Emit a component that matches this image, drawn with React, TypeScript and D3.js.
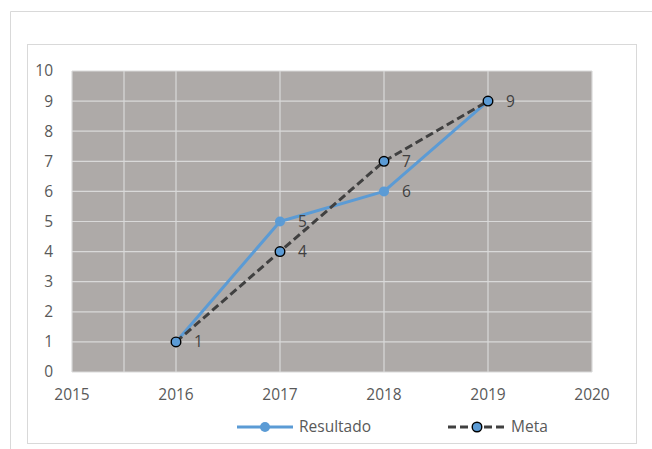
import React from "react";
import * as d3 from "d3";

const years = [2016, 2017, 2018, 2019];
const resultado = [1, 5, 6, 9];
const meta = [1, 4, 7, 9];
const xTicks = [2015, 2016, 2017, 2018, 2019, 2020];
const xGridExtra = [2015.5];
const yTicks = [0, 1, 2, 3, 4, 5, 6, 7, 8, 9, 10];

const W = 652, H = 449;
const plot = { left: 72, right: 592, top: 71, bottom: 372 };
const font = "'Open Sans', sans-serif";
const textColor = "#595959";

export default function App() {
  const x = d3.scaleLinear().domain([2015, 2020]).range([plot.left, plot.right]);
  const y = d3.scaleLinear().domain([0, 10]).range([plot.bottom, plot.top]);
  const line = d3.line<[number, number]>().x(d => x(d[0])).y(d => y(d[1]));
  const resPts = years.map((yr, i) => [yr, resultado[i]] as [number, number]);
  const metaPts = years.map((yr, i) => [yr, meta[i]] as [number, number]);
  const gridXs = [...xGridExtra, ...xTicks];

  return (
    <svg width={W} height={H} style={{ position: "absolute", left: 0, top: 0 }} fontFamily={font}>
      <rect x={0} y={0} width={W} height={H} fill="#fff" />
      {/* outer frame */}
      <line x1={10.5} y1={11.5} x2={W} y2={11.5} stroke="#d9d9d9" strokeWidth={1} />
      <line x1={10.5} y1={11.5} x2={10.5} y2={H} stroke="#d9d9d9" strokeWidth={1} />
      {/* chart frame */}
      <rect x={27.5} y={44.5} width={609} height={399} fill="#fff" stroke="#d9d9d9" strokeWidth={1} />
      {/* plot area */}
      <rect x={plot.left} y={plot.top} width={plot.right - plot.left} height={plot.bottom - plot.top} fill="#aeaaa8" />
      {yTicks.map(t => (
        <line key={"gy" + t} x1={plot.left} x2={plot.right} y1={y(t)} y2={y(t)} stroke="#d9d9d9" strokeWidth={1.2} />
      ))}
      {gridXs.map(t => (
        <line key={"gx" + t} x1={x(t)} x2={x(t)} y1={plot.top} y2={plot.bottom} stroke="#d9d9d9" strokeWidth={1.2} />
      ))}
      {/* axis labels */}
      {yTicks.map(t => (
        <text key={"yl" + t} x={53} y={y(t)} dy="0.35em" textAnchor="end" fontSize={15.5} fill={textColor}>{t}</text>
      ))}
      {xTicks.map(t => (
        <text key={"xl" + t} x={x(t)} y={395} dy="0.35em" textAnchor="middle" fontSize={15.5} fill={textColor}>{t}</text>
      ))}
      {/* Resultado */}
      <path d={line(resPts) || ""} fill="none" stroke="#5b9bd5" strokeWidth={3} strokeLinejoin="round" />
      {resPts.map((p, i) => (
        <circle key={"rc" + i} cx={x(p[0])} cy={y(p[1])} r={5} fill="#5b9bd5" />
      ))}
      {/* Meta */}
      <path d={line(metaPts) || ""} fill="none" stroke="#404040" strokeWidth={3} strokeDasharray="8,4" />
      {metaPts.map((p, i) => (
        <circle key={"mc" + i} cx={x(p[0])} cy={y(p[1])} r={4.8} fill="#5b9bd5" stroke="#000" strokeWidth={1.4} />
      ))}
      {/* data labels */}
      {resPts.map((p, i) => (
        <text key={"rl" + i} x={x(p[0]) + 18} y={y(p[1])} dy="0.35em" fontSize={15.5} fill="#404040">{p[1]}</text>
      ))}
      {metaPts.map((p, i) => (
        p[1] !== resultado[i] ? (
          <text key={"ml" + i} x={x(p[0]) + 18} y={y(p[1])} dy="0.35em" fontSize={15.5} fill="#404040">{p[1]}</text>
        ) : null
      ))}
      {/* legend */}
      <line x1={237} x2={293} y1={427} y2={427} stroke="#5b9bd5" strokeWidth={3} />
      <circle cx={265} cy={427} r={5} fill="#5b9bd5" />
      <text x={299} y={427} dy="0.35em" fontSize={15.5} fill={textColor}>Resultado</text>
      <line x1={448} x2={505} y1={427} y2={427} stroke="#404040" strokeWidth={3} strokeDasharray="8,4" />
      <circle cx={477} cy={427} r={4.8} fill="#5b9bd5" stroke="#000" strokeWidth={1.4} />
      <text x={511} y={427} dy="0.35em" fontSize={15.5} fill={textColor}>Meta</text>
    </svg>
  );
}
